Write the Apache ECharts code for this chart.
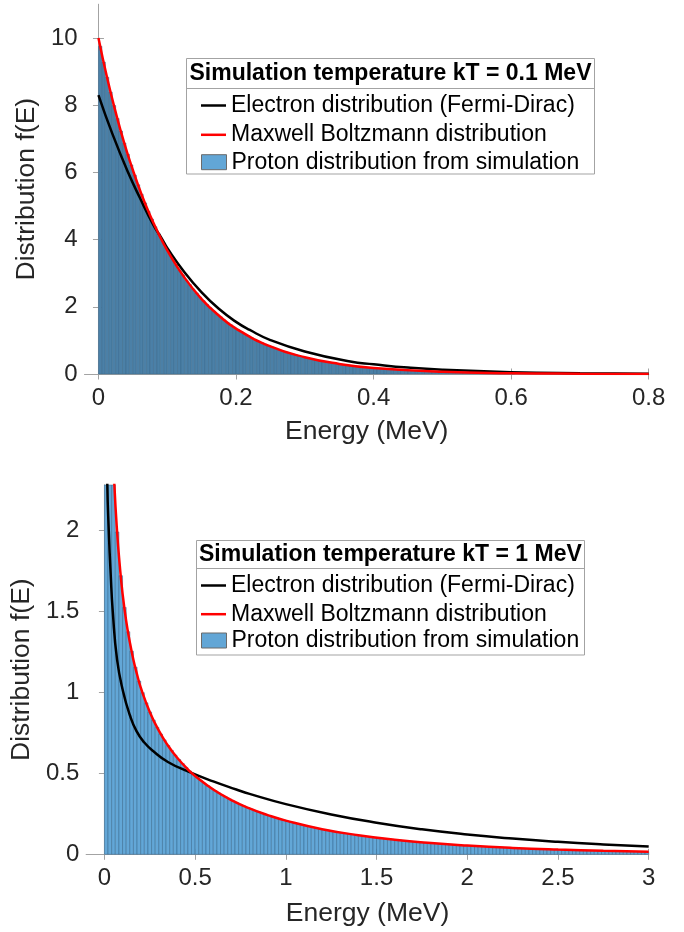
<!DOCTYPE html>
<html>
<head>
<meta charset="utf-8">
<title>Proton distribution</title>
<script src="https://cdn.jsdelivr.net/npm/echarts@6/dist/echarts.min.js"></script>
<style>
  html, body { margin: 0; padding: 0; background: #fff; }
  #chart { width: 684px; height: 932px; }
</style>
</head>
<body>
<div id="chart"></div>
<script>
// ---- data ----
var topTitle = 'Simulation temperature kT = 0.1 MeV';
var bottomTitle = 'Simulation temperature kT = 1 MeV';
var nameElectron = 'Electron distribution (Fermi-Dirac)';
var nameMaxwell = 'Maxwell Boltzmann distribution';
var nameProton = 'Proton distribution from simulation';

// top panel (kT = 0.1 MeV)
var topXTicks = [0, 0.2, 0.4, 0.6, 0.8];
var topYTicks = [0, 2, 4, 6, 8, 10];
var topBinWidth = 0.005;
var topHist = [
  9.75, 9.28, 8.83, 8.39, 7.99, 7.60, 7.23, 6.87, 6.54, 6.22,
  5.92, 5.63, 5.35, 5.09, 4.84, 4.61, 4.38, 4.17, 3.97, 3.77,
  3.59, 3.41, 3.25, 3.09, 2.94, 2.79, 2.66, 2.53, 2.41, 2.29,
  2.18, 2.07, 1.97, 1.87, 1.78, 1.70, 1.61, 1.53, 1.46, 1.39,
  1.32, 1.26, 1.19, 1.14, 1.08, 1.03, 0.978, 0.930, 0.885, 0.842,
  0.801, 0.762, 0.725, 0.689, 0.656, 0.624, 0.593, 0.564, 0.537, 0.511,
  0.486, 0.462, 0.439, 0.418, 0.398, 0.378, 0.360, 0.342, 0.326, 0.310,
  0.295, 0.280, 0.267, 0.254, 0.241, 0.229, 0.218, 0.208, 0.197, 0.188,
  0.179, 0.170, 0.162, 0.154, 0.146, 0.139, 0.132, 0.126, 0.120, 0.114,
  0.108, 0.103, 0.098, 0.093, 0.089, 0.084, 0.080, 0.076, 0.073, 0.069,
  0.066, 0.062, 0.059, 0.056, 0.054, 0.051, 0.048, 0.046, 0.044, 0.042,
  0.040, 0.038, 0.036, 0.034, 0.033, 0.031, 0.030, 0.028, 0.027, 0.025,
  0.024
];
var topElectronE = [0, 0.02, 0.043, 0.06, 0.08, 0.093, 0.1, 0.125, 0.15, 0.175, 0.2, 0.22, 0.25, 0.3, 0.366, 0.4, 0.45, 0.5, 0.6, 0.7, 0.8];
var topElectronF = [8.3, 7.16, 6.0, 5.25, 4.43, 4.0, 3.75, 3.03, 2.43, 1.94, 1.55, 1.31, 1.01, 0.67, 0.37, 0.29, 0.19, 0.125, 0.054, 0.023, 0.01];
var topMaxwellE = [0, 0.0125, 0.025, 0.0375, 0.05, 0.0625, 0.075, 0.0875, 0.1, 0.125, 0.15, 0.175, 0.2, 0.25, 0.3, 0.35, 0.4, 0.5, 0.6, 0.7, 0.8];
var topMaxwellF = [10, 8.82, 7.79, 6.87, 6.07, 5.35, 4.72, 4.17, 3.68, 2.87, 2.23, 1.74, 1.35, 0.82, 0.50, 0.30, 0.18, 0.067, 0.025, 0.009, 0.003];

// bottom panel (kT = 1 MeV)
var bottomXTicks = [0, 0.5, 1, 1.5, 2, 2.5, 3];
var bottomYTicks = [0, 0.5, 1, 1.5, 2];
var bottomBinWidth = 0.02;
var bottomHist = [
  7.9, 3.21, 2.41, 1.99, 1.72,
  1.524, 1.374, 1.254, 1.155, 1.070, 0.998, 0.935, 0.879, 0.829, 0.784,
  0.743, 0.706, 0.672, 0.641, 0.612, 0.585, 0.560, 0.536, 0.514, 0.494,
  0.474, 0.456, 0.439, 0.423, 0.407, 0.393, 0.379, 0.365, 0.353, 0.341,
  0.329, 0.318, 0.308, 0.298, 0.288, 0.279, 0.270, 0.262, 0.253, 0.246,
  0.238, 0.231, 0.224, 0.217, 0.211, 0.205, 0.199, 0.193, 0.187, 0.182,
  0.177, 0.172, 0.167, 0.162, 0.157, 0.153, 0.149, 0.145, 0.141, 0.137,
  0.133, 0.129, 0.126, 0.123, 0.119, 0.116, 0.113, 0.110, 0.107, 0.104,
  0.101, 0.099, 0.096, 0.094, 0.091, 0.089, 0.087, 0.084, 0.082, 0.080,
  0.078, 0.076, 0.074, 0.072, 0.070, 0.069, 0.067, 0.065, 0.064, 0.062,
  0.061, 0.059, 0.058, 0.056, 0.055, 0.053, 0.052, 0.051, 0.050, 0.048,
  0.047, 0.046, 0.045, 0.044, 0.043, 0.042, 0.041, 0.040, 0.039, 0.038,
  0.037, 0.036, 0.035, 0.034, 0.033, 0.033, 0.032, 0.031, 0.030, 0.030,
  0.029, 0.028, 0.028, 0.027, 0.026, 0.026, 0.025, 0.025, 0.024, 0.023,
  0.023, 0.022, 0.022, 0.021, 0.021, 0.020, 0.020, 0.019, 0.019, 0.018,
  0.018, 0.018, 0.017, 0.017, 0.016
];
var bottomElectronE = [0.01, 0.016, 0.024, 0.035, 0.046, 0.07, 0.104, 0.14, 0.177, 0.22, 0.27, 0.35, 0.46, 0.6, 0.727, 0.8, 1.0, 1.25, 1.5, 1.75, 2.0, 2.25, 2.5, 2.75, 3.0];
var bottomElectronF = [2.9, 2.28, 2.0, 1.72, 1.5, 1.2, 1.0, 0.86, 0.76, 0.69, 0.636, 0.57, 0.512, 0.45, 0.40, 0.373, 0.31, 0.246, 0.195, 0.154, 0.122, 0.097, 0.077, 0.061, 0.048];
var bottomMaxwellE = [0.04, 0.055, 0.07, 0.085, 0.1, 0.12, 0.14, 0.16, 0.18, 0.2, 0.25, 0.3, 0.35, 0.4, 0.46, 0.5, 0.6, 0.7, 0.8, 0.9, 1.0, 1.2, 1.4, 1.6, 1.8, 2.0, 2.25, 2.5, 2.75, 3.0];
var bottomMaxwellF = [2.71, 2.28, 1.99, 1.78, 1.61, 1.44, 1.31, 1.20, 1.11, 1.03, 0.879, 0.763, 0.672, 0.598, 0.525, 0.484, 0.400, 0.335, 0.283, 0.242, 0.208, 0.155, 0.118, 0.090, 0.0695, 0.054, 0.0396, 0.0293, 0.0217, 0.0162];

// ---- style ----
var FONT = '"Liberation Sans", Arial, Helvetica, sans-serif';
var AXIS_GRAY = '#a3a3a3';
var TEXT_GRAY = '#262626';

function zip(xs, ys) {
  return xs.map(function (x, i) { return [x, ys[i]]; });
}
function bins(width, heights) {
  return heights.map(function (h, i) { return [i * width, h]; });
}

// histogram bars drawn from bin edges, clipped to the plot box
function histRender(binWidth, fill, stroke) {
  return function (params, api) {
    var x0 = api.value(0);
    var h = api.value(1);
    var p0 = api.coord([x0, 0]);
    var p1 = api.coord([x0 + binWidth, h]);
    var cs = params.coordSys;
    var shape = echarts.graphic.clipRectByRect(
      { x: p0[0], y: p1[1], width: p1[0] - p0[0], height: p0[1] - p1[1] },
      { x: cs.x, y: cs.y, width: cs.width, height: cs.height }
    );
    return shape && {
      type: 'rect',
      shape: shape,
      style: { fill: fill, stroke: stroke, lineWidth: 0.5 }
    };
  };
}

function xAxes(gridIndex, min, max, ticks, nameGap) {
  var line = { show: true, lineStyle: { color: AXIS_GRAY, width: 1 } };
  var tick = { show: true, inside: true, length: 5.5, customValues: ticks, lineStyle: { color: AXIS_GRAY } };
  return [{
    gridIndex: gridIndex, type: 'value', position: 'bottom', min: min, max: max,
    axisLine: line, axisTick: tick, splitLine: { show: false },
    axisLabel: { customValues: ticks, fontSize: 24, color: TEXT_GRAY, fontFamily: FONT, margin: 12 },
    name: 'Energy (MeV)', nameLocation: 'middle', nameGap: nameGap,
    nameTextStyle: { fontSize: 26.5, color: TEXT_GRAY, fontFamily: FONT }
  }, {
    gridIndex: gridIndex, type: 'value', position: 'top', min: min, max: max,
    axisLine: line, axisTick: tick, splitLine: { show: false }, axisLabel: { show: false }
  }];
}

function yAxes(gridIndex, min, max, ticks, nameGap) {
  var line = { show: true, lineStyle: { color: AXIS_GRAY, width: 1 } };
  var tick = { show: true, inside: true, length: 5.5, customValues: ticks, lineStyle: { color: AXIS_GRAY } };
  return [{
    gridIndex: gridIndex, type: 'value', position: 'left', min: min, max: max,
    axisLine: line, axisTick: tick, splitLine: { show: false },
    axisLabel: { customValues: ticks, fontSize: 24, color: TEXT_GRAY, fontFamily: FONT, margin: 7 },
    name: 'Distribution f(E)', nameLocation: 'middle', nameGap: nameGap,
    nameTextStyle: { fontSize: 26.5, color: TEXT_GRAY, fontFamily: FONT }
  }, {
    gridIndex: gridIndex, type: 'value', position: 'right', min: min, max: max,
    axisLine: line, axisTick: tick, splitLine: { show: false }, axisLabel: { show: false }
  }];
}

function lineSeries(name, data, color, xi, yi, z) {
  return {
    name: name, type: 'line', xAxisIndex: xi, yAxisIndex: yi, data: data,
    showSymbol: false, symbol: 'none', smooth: 0.5, clip: true,
    itemStyle: { color: color }, lineStyle: { color: color, width: 2.5 }, z: z
  };
}

function histSeries(data, binWidth, fill, stroke, xi, yi) {
  return {
    name: nameProton, type: 'custom', xAxisIndex: xi, yAxisIndex: yi,
    renderItem: histRender(binWidth, fill, stroke),
    encode: { x: 0, y: 1 }, data: data,
    itemStyle: { color: '#62a6d6' }, z: 2
  };
}

function legends(left, topLines, gapLines, topHist) {
  var text = { fontSize: 23, lineHeight: 22, color: '#000', fontFamily: FONT };
  return [{
    orient: 'vertical', left: left, top: topLines, padding: 0, itemGap: gapLines,
    itemWidth: 25, itemHeight: 2.5, icon: 'rect', selectedMode: false,
    data: [nameElectron, nameMaxwell], textStyle: text, z: 8
  }, {
    orient: 'vertical', left: left, top: topHist, padding: 0,
    itemWidth: 25, itemHeight: 15, icon: 'rect', selectedMode: false,
    itemStyle: { color: '#62a6d6', borderColor: '#6b6b6b', borderWidth: 1 },
    data: [nameProton], textStyle: text, z: 8
  }];
}

function legendBox(x, y, w, h, sepY, title, titleX, titleY) {
  return [{
    type: 'rect', z: 6,
    shape: { x: x, y: y, width: w, height: h },
    style: { fill: '#fff', stroke: AXIS_GRAY, lineWidth: 1 }
  }, {
    type: 'line', z: 7,
    shape: { x1: x, y1: sepY, x2: x + w, y2: sepY },
    style: { stroke: AXIS_GRAY, lineWidth: 1 }
  }, {
    type: 'text', z: 7,
    style: {
      x: titleX, y: titleY, text: title, fill: '#000',
      font: 'bold 23px ' + FONT, align: 'left', verticalAlign: 'middle'
    }
  }];
}

var chart = echarts.init(document.getElementById('chart'), null, { renderer: 'canvas' });

var option = {
  animation: false,
  backgroundColor: '#fff',
  grid: [
    { left: 84.7, top: 4.3, width: 564, height: 369.7 },
    { left: 84.7, top: 485, width: 564, height: 369.3 }
  ],
  xAxis: xAxes(0, -0.02, 0.8, topXTicks, 44).concat(xAxes(1, -0.1, 3, bottomXTicks, 46)),
  yAxis: yAxes(0, 0, 11, topYTicks, 36).concat(yAxes(1, 0, 2.28, bottomYTicks, 42)),
  legend: legends(201, 94, 6.3, 150.7).concat(legends(201, 574, 5.7, 629)),
  graphic: legendBox(186.5, 58.5, 408, 115.5, 88.5, topTitle, 189.5, 74)
    .concat(legendBox(196.5, 540.5, 388, 114.5, 568.5, bottomTitle, 199, 555)),
  series: [
    histSeries(bins(topBinWidth, topHist), topBinWidth, '#4b80a7', '#3a688b', 0, 0),
    lineSeries(nameElectron, zip(topElectronE, topElectronF), '#000000', 0, 0, 3),
    lineSeries(nameMaxwell, zip(topMaxwellE, topMaxwellF), '#ff0000', 0, 0, 4),
    histSeries(bins(bottomBinWidth, bottomHist), bottomBinWidth, '#63a7d7', '#35668c', 2, 2),
    lineSeries(nameElectron, zip(bottomElectronE, bottomElectronF), '#000000', 2, 2, 3),
    lineSeries(nameMaxwell, zip(bottomMaxwellE, bottomMaxwellF), '#ff0000', 2, 2, 4)
  ]
};

chart.setOption(option);
</script>
</body>
</html>
